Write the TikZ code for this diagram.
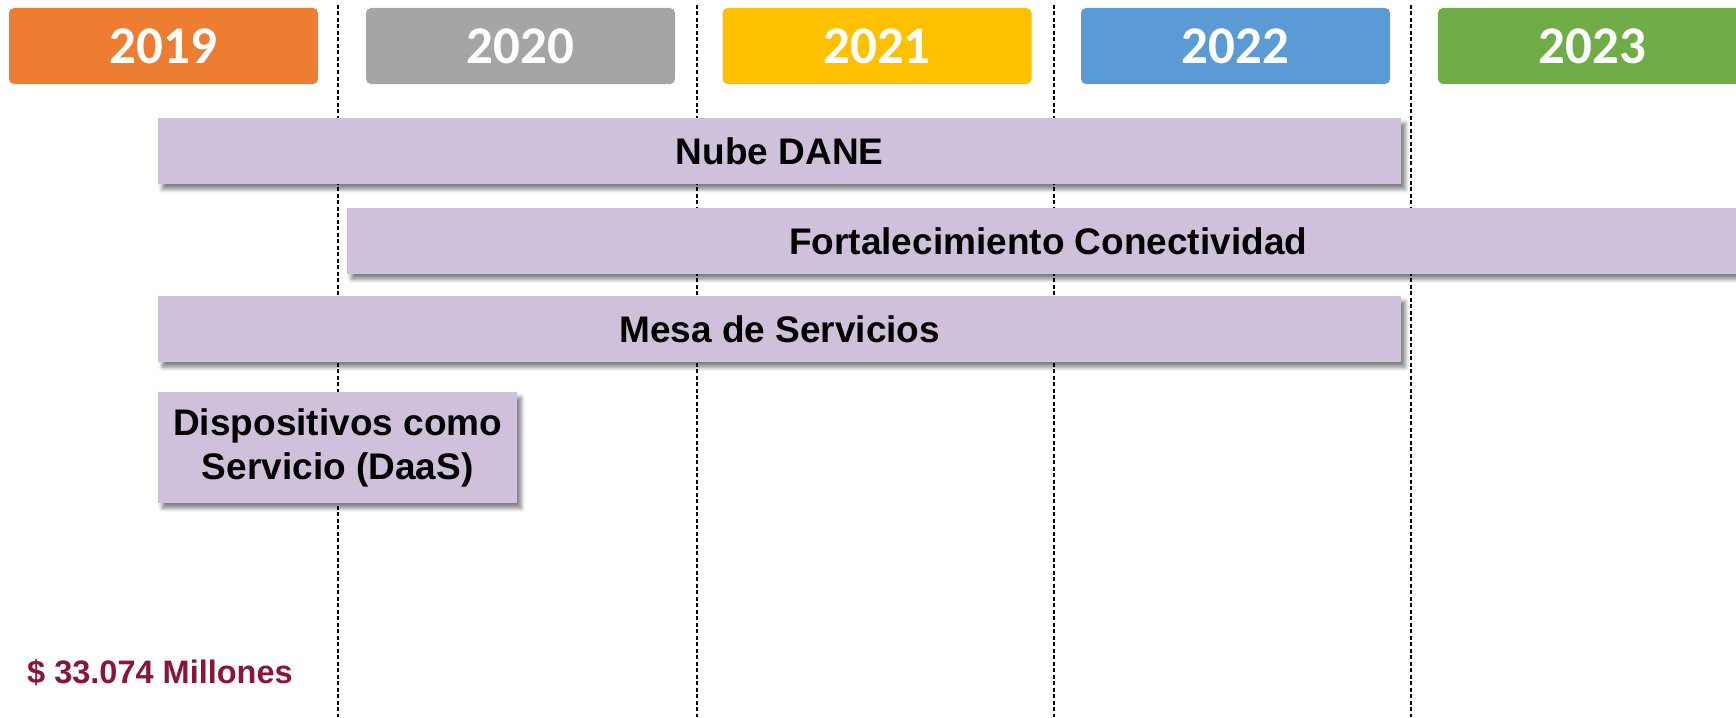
\documentclass[tikz,border=0pt]{standalone}
\usepackage{fontspec}
\setmainfont{Liberation Sans}
\newfontfamily\yearfont{Carlito}
\usetikzlibrary{shadows.blur}

\definecolor{anioA}{RGB}{237,125,49}
\definecolor{anioB}{RGB}{165,165,165}
\definecolor{anioC}{RGB}{255,192,0}
\definecolor{anioD}{RGB}{91,155,213}
\definecolor{anioE}{RGB}{112,173,71}
\definecolor{lila}{RGB}{207,193,219}
\definecolor{vino}{RGB}{138,21,56}

\tikzset{
  anio/.style={rounded corners=5pt, minimum width=309pt, minimum height=76pt, inner sep=0pt,
    text=white, font=\yearfont\bfseries\fontsize{53}{60}\selectfont},
  barra/.style={fill=lila, inner sep=0pt, anchor=north west, minimum height=66pt, align=center,
    font=\bfseries\fontsize{37}{44}\selectfont,
    blur shadow={shadow xshift=4pt, shadow yshift=-5pt, shadow blur radius=4pt, shadow opacity=50}},
  corte/.style={black, line width=1.5pt, dash pattern=on 4pt off 2.5pt}
}

\begin{document}
\begin{tikzpicture}[x=1pt, y=-1pt]
\useasboundingbox (0,0) rectangle (1736,717);
\clip (0,0) rectangle (1736,717);

% cortes entre anios
\foreach \xc/\nm in {338/a, 697/b, 1054/c, 1411/d}
  \draw[corte] (\xc,5) coordinate (top\nm) -- (\xc,717) coordinate (bot\nm);

% anios
\foreach \xc/\yr/\col in {163.5/2019/anioA, 520.5/2020/anioB, 877/2021/anioC, 1235.5/2022/anioD, 1592.5/2023/anioE}
  \node[anio, fill=\col] (y\yr) at (\xc,46) {\yr};

% proyectos
\node[barra, minimum width=1243pt] (nube) at (158,118) {Nube DANE};
\node[barra, minimum width=1402pt] (conect) at (347,208) {Fortalecimiento Conectividad};
\node[barra, minimum width=1243pt] (mesa) at (158,296) {Mesa de Servicios};
\node[barra, minimum width=359pt, minimum height=111pt] (daas) at (158,392) {Dispositivos como\\Servicio (DaaS)};

\node[anchor=base west, inner sep=0pt, text=vino, font=\bfseries\fontsize{32.5}{38}\selectfont] (monto) at (27,683) {\$ 33.074 Millones};
\end{tikzpicture}
\end{document}
